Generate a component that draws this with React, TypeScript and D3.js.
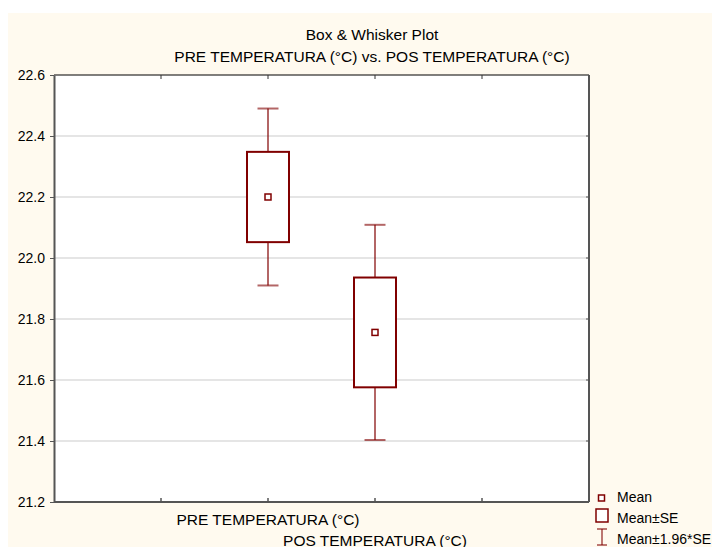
import React, { useEffect, useRef } from 'react'
import * as d3 from 'd3'

// values
const categories = ['PRE TEMPERATURA (°C)', 'POS TEMPERATURA (°C)']
const means = [22.2, 21.756]
const se = [0.148, 0.18]
const yTicks = [21.2, 21.4, 21.6, 21.8, 22.0, 22.2, 22.4, 22.6]
const legendLabels = ['Mean', 'Mean±SE', 'Mean±1.96*SE']

const W = 712, H = 534
const FONT = 'Liberation Sans, Arial, sans-serif'
const RED = '#800000'

export default function App() {
  const ref = useRef<SVGSVGElement>(null)

  useEffect(() => {
    const svg = d3.select(ref.current)
    svg.selectAll('*').remove()

    // chart area offsets relative to svg (svg placed at page 8,13)
    const margin = { top: 62, left: 46, right: 131, bottom: 45 }
    const w = W - margin.left - margin.right
    const h = H - margin.top - margin.bottom

    svg.append('rect').attr('width', W).attr('height', H).attr('fill', '#fffaef')

    const g = svg.append('g').attr('transform', `translate(${margin.left}, ${margin.top})`)
    g.append('rect').attr('width', w).attr('height', h).attr('fill', '#fff')

    const y = d3.scaleLinear().domain([21.2, 22.6]).range([h, 0])
    const x = d3.scaleLinear().domain([0, 5]).range([0, w])

    // grid
    g.selectAll('.grid').data(yTicks.slice(1, -1)).join('line').attr('class', 'grid')
      .attr('x1', 0).attr('x2', w)
      .attr('y1', d => y(d)).attr('y2', d => y(d))
      .attr('stroke', '#dcdcdc').attr('stroke-width', 1.5)

    // frame
    g.append('line').attr('x1', 0).attr('x2', w).attr('y1', 0).attr('y2', 0).attr('stroke', '#000')
    g.append('line').attr('x1', w).attr('x2', w).attr('y1', 0).attr('y2', h).attr('stroke', '#555').attr('stroke-width', 2)

    // left axis
    const yAxis = g.append('g').call(
      d3.axisLeft(y).tickValues(yTicks).tickFormat(d3.format('.1f')).tickSize(4).tickSizeOuter(0)
    )
    yAxis.select('.domain').attr('stroke', '#555').attr('stroke-width', 2)
    yAxis.selectAll('.tick line').attr('stroke', '#555')
    yAxis.selectAll('text').attr('font-family', FONT).attr('font-size', 14).attr('fill', '#000').attr('x', -9)

    // right inward ticks
    g.selectAll('.rtick').data(yTicks.slice(1, -1)).join('line').attr('class', 'rtick')
      .attr('x1', w - 3).attr('x2', w).attr('y1', d => y(d)).attr('y2', d => y(d)).attr('stroke', '#555')

    // bottom axis with inward ticks, top ticks inward
    const xt = [1, 2, 3, 4]
    g.append('line').attr('x1', 0).attr('x2', w).attr('y1', h).attr('y2', h).attr('stroke', '#555').attr('stroke-width', 2)
    g.selectAll('.btick').data(xt).join('line').attr('class', 'btick')
      .attr('x1', d => x(d)).attr('x2', d => x(d)).attr('y1', h - 4).attr('y2', h).attr('stroke', '#555').attr('stroke-width', 1.5)
    g.selectAll('.ttick').data(xt).join('line').attr('class', 'ttick')
      .attr('x1', d => x(d)).attr('x2', d => x(d)).attr('y1', 0).attr('y2', 4).attr('stroke', '#333')

    // category labels
    g.selectAll('.xlab').data(categories).join('text').attr('class', 'xlab')
      .attr('x', (d, i) => x(i + 2)).attr('y', (d, i) => h + 23 + i * 20.5)
      .attr('text-anchor', 'middle').attr('font-family', FONT).attr('font-size', 15.5)
      .text(d => d)

    // boxes
    const boxW = 42, capW = 21
    const b = g.selectAll('.box').data(means).join('g').attr('class', 'box')
      .attr('transform', (d, i) => `translate(${x(i + 2)}, 0)`)
    b.append('line').attr('x1', 0).attr('x2', 0)
      .attr('y1', (d, i) => y(d + 1.96 * se[i])).attr('y2', (d, i) => y(d + se[i]))
      .attr('stroke', RED).attr('stroke-opacity', 0.6).attr('stroke-width', 2)
    b.append('line').attr('x1', 0).attr('x2', 0)
      .attr('y1', (d, i) => y(d - se[i])).attr('y2', (d, i) => y(d - 1.96 * se[i]))
      .attr('stroke', RED).attr('stroke-opacity', 0.6).attr('stroke-width', 2)
    b.append('line').attr('x1', -capW / 2).attr('x2', capW / 2)
      .attr('y1', (d, i) => y(d + 1.96 * se[i])).attr('y2', (d, i) => y(d + 1.96 * se[i]))
      .attr('stroke', RED).attr('stroke-opacity', 0.6).attr('stroke-width', 2)
    b.append('line').attr('x1', -capW / 2).attr('x2', capW / 2)
      .attr('y1', (d, i) => y(d - 1.96 * se[i])).attr('y2', (d, i) => y(d - 1.96 * se[i]))
      .attr('stroke', RED).attr('stroke-opacity', 0.6).attr('stroke-width', 2)
    b.append('rect').attr('x', -boxW / 2).attr('width', boxW)
      .attr('y', (d, i) => y(d + se[i])).attr('height', (d, i) => y(d - se[i]) - y(d + se[i]))
      .attr('fill', '#fff').attr('stroke', RED).attr('stroke-width', 2)
    b.append('rect').attr('x', -3).attr('width', 6).attr('y', d => y(d) - 3).attr('height', 6)
      .attr('fill', '#fff').attr('stroke', RED).attr('stroke-width', 1.5)

    // titles
    svg.append('text').attr('x', 364).attr('y', 27).attr('text-anchor', 'middle')
      .attr('font-family', FONT).attr('font-size', 15.5).text('Box & Whisker Plot')
    svg.append('text').attr('x', 364).attr('y', 49).attr('text-anchor', 'middle')
      .attr('font-family', FONT).attr('font-size', 15.5)
      .text('PRE TEMPERATURA (°C) vs. POS TEMPERATURA (°C)')

    // legend
    const lg = svg.append('g').attr('transform', 'translate(589, 484)')
    lg.append('rect').attr('x', 1.5).attr('y', -2).attr('width', 6).attr('height', 6)
      .attr('fill', '#fff').attr('stroke', RED).attr('stroke-width', 1.5)
    lg.append('rect').attr('x', -1).attr('y', 12).attr('width', 12).attr('height', 13)
      .attr('fill', '#fff').attr('stroke', RED).attr('stroke-width', 1.5)
    lg.append('line').attr('x1', 5).attr('x2', 5).attr('y1', 32).attr('y2', 48).attr('stroke', RED).attr('stroke-opacity', 0.7).attr('stroke-width', 1.5)
    lg.append('line').attr('x1', 0).attr('x2', 10).attr('y1', 32).attr('y2', 32).attr('stroke', RED).attr('stroke-opacity', 0.7).attr('stroke-width', 1.5)
    lg.append('line').attr('x1', 0).attr('x2', 10).attr('y1', 48).attr('y2', 48).attr('stroke', RED).attr('stroke-opacity', 0.7).attr('stroke-width', 1.5)
    lg.selectAll('.ltxt').data(legendLabels).join('text').attr('class', 'ltxt')
      .attr('x', 20).attr('y', (d, i) => 5 + i * 21)
      .attr('font-family', FONT).attr('font-size', 14).text(d => d)
  }, [])

  return (
    <svg ref={ref} width={W} height={H} style={{ display: 'block', marginTop: 5 }} />
  )
}
